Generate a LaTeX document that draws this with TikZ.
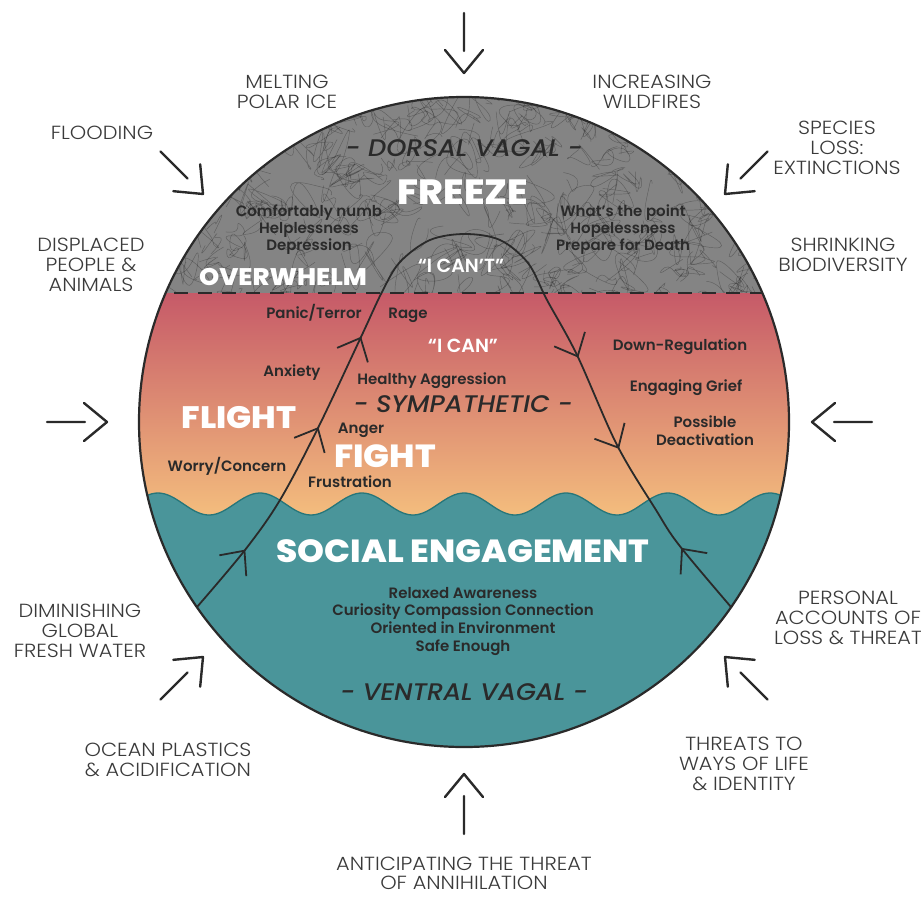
\documentclass[tikz,border=0pt]{standalone}
\usepackage{fontspec}
\usetikzlibrary{arrows.meta,decorations.markings}
\setmainfont{Poppins}
\newfontfamily\lightfont{Poppins Light}[FakeStretch=1.1]
\newfontfamily\semifont{Poppins SemiBold}
\newfontfamily\heavyfont{Poppins ExtraBold}[FakeStretch=1.07]
\newfontfamily\slantfont{Poppins Medium Italic}[FakeStretch=1.07]

\definecolor{inkdark}{HTML}{2A2A2A}
\definecolor{labelgray}{HTML}{3A3A3A}
\definecolor{dorsalgray}{RGB}{132,132,132}
\definecolor{sympTop}{RGB}{198,90,104}
\definecolor{sympMid}{RGB}{222,132,108}
\definecolor{sympBot}{RGB}{245,192,126}
\definecolor{ventral}{RGB}{74,149,154}
\definecolor{waveline}{RGB}{38,118,122}

\tikzset{
  outer/.style={font=\lightfont\fontsize{19}{20}\selectfont, text=labelgray,
    align=center, inner sep=0pt, anchor=north},
  state/.style={font=\semifont\fontsize{15}{17}\selectfont, text=inkdark,
    inner sep=0pt, anchor=base},
  big/.style={font=\heavyfont\fontsize{#1}{#1}\selectfont, text=white,
    inner sep=0pt, anchor=base},
  branch/.style={font=\slantfont\fontsize{24}{24}\selectfont, text=inkdark,
    inner sep=0pt, anchor=base},
  quote/.style={font=\semifont\fontsize{19}{19}\selectfont, text=white,
    inner sep=0pt, anchor=base},
  scribble/.style={line width=0.45pt, draw=black, draw opacity=0.28},
  pics/inarrow/.style={code={
    \draw[line width=2.4pt, draw=inkdark, line cap=round, line join=round]
      (-60,0) -- (-22,0) (-23,-19) -- (0,0) -- (-23,19);
  }},
  archline/.style={line width=1.8pt, draw=inkdark, line cap=round},
  archtips/.style={postaction={decorate}, decoration={markings,
    mark=at position 75pt with {\arrow{Straight Barb[length=19pt,width=34pt]}},
    mark=at position 218pt with {\arrow{Straight Barb[length=19pt,width=34pt]}},
    mark=at position 318pt with {\arrow{Straight Barb[length=19pt,width=34pt]}},
    mark=at position 655pt with {\arrow{Straight Barb[length=19pt,width=34pt]}},
    mark=at position 755pt with {\arrow{Straight Barb[length=19pt,width=34pt]}},
    mark=at position 872pt with {\arrowreversed{Straight Barb[length=19pt,width=34pt]}}}}
}

\begin{document}
\begin{tikzpicture}[x=1pt,y=-1pt]
\useasboundingbox (0,0) rectangle (921,897);
\fill[white] (0,0) rectangle (921,897);

\coordinate (c) at (464,422);

% the three bands of the circle
\begin{scope}
  \clip (c) circle[radius=325];
  % dorsal vagal band with tangled thread texture
  \begin{scope}
    \clip (100,80) rectangle (830,293);
    \fill[dorsalgray] (100,80) rectangle (830,293);
    \pgfmathsetseed{4242}
    \foreach \k in {1,...,340}{
      \pgfmathsetmacro\cx{140+650*rnd}
      \pgfmathsetmacro\cy{88+215*rnd}
      \pgfmathsetmacro\rr{8+18*rnd}
      \draw[scribble] plot[smooth, tension=1] coordinates {
        ({\cx+\rr*rand},{\cy+\rr*rand}) ({\cx+\rr*rand},{\cy+\rr*rand})
        ({\cx+\rr*rand},{\cy+\rr*rand}) ({\cx+\rr*rand},{\cy+\rr*rand})
        ({\cx+\rr*rand},{\cy+\rr*rand}) ({\cx+\rr*rand},{\cy+\rr*rand})};
    }
  \end{scope}
  % sympathetic band
  \shade[top color=sympTop, middle color=sympMid, bottom color=sympBot]
    (100,293) rectangle (830,522);
  % ventral vagal band under the waves (period 102)
  \fill[ventral] plot[domain=100:830, samples=240, smooth]
    (\x,{504-11*cos(3.5294*(\x-158))}) -- (830,760) -- (100,760) -- cycle;
  \draw[waveline, line width=1.3pt] plot[domain=100:830, samples=240, smooth]
    (\x,{504-11*cos(3.5294*(\x-158))});
  % boundary between dorsal and sympathetic
  \draw[inkdark, line width=2.6pt, dash pattern=on 14pt off 10pt]
    (150,293) -- (780,293);
\end{scope}
\draw[inkdark, line width=2.2pt] (c) circle[radius=325];

% the arc of activation
\draw[archline, archtips] plot[smooth, tension=0.55] coordinates {
  (197,607) (245,550) (280,500) (318,428) (361,337) (382,292) (400,262)
  (430,240) (465,234) (500,240) (528,263) (547,300) (577,355) (617,445)
  (656,510) (679,545) (731,607)};

% dorsal vagal
\node[branch] (dorsal) at (464,156) {- DORSAL VAGAL -};
\node[big=35] (freeze) at (463,204) {FREEZE};
\node[state] (numb) at (309,216) {Comfortably numb};
\node[state] (helpless) at (309,233) {Helplessness};
\node[state] (depress) at (309,250) {Depression};
\node[state] (point) at (623,216) {What’s the point};
\node[state] (hopeless) at (623,233) {Hopelessness};
\node[state] (death) at (623,250) {Prepare for Death};
\node[quote] (icant) at (461,272) {“I CAN’T”};
\node[big=24] (overwhelm) at (283,285) {OVERWHELM};

% sympathetic
\node[state] (panic) at (314,318) {Panic/Terror};
\node[state] (rage) at (408,318) {Rage};
\node[quote] (ican) at (463,352) {“I CAN”};
\node[state] (downreg) at (680,350) {Down-Regulation};
\node[state] (anxiety) at (292,376) {Anxiety};
\node[state] (healthy) at (432,384) {Healthy Aggression};
\node[state] (grief) at (686,391) {Engaging Grief};
\node[branch] (symp) at (463,412) {- SYMPATHETIC -};
\node[big=31] (flight) at (239,428) {FLIGHT};
\node[state] (anger) at (361,433) {Anger};
\node[state] (possible) at (705,427) {Possible};
\node[state] (deact) at (705,445) {Deactivation};
\node[big=32] (fight) at (385,467) {FIGHT};
\node[state] (worry) at (227,471) {Worry/Concern};
\node[state] (frust) at (350,487) {Frustration};

% ventral vagal
\node[big=32] (social) at (463,562) {SOCIAL ENGAGEMENT};
\node[state] (relaxed) at (463,598) {Relaxed Awareness};
\node[state] (curious) at (463,615) {Curiosity Compassion Connection};
\node[state] (oriented) at (463,633) {Oriented in Environment};
\node[state] (safe) at (463,651) {Safe Enough};
\node[branch] (ventralv) at (464,700) {- VENTRAL VAGAL -};

% pressures from outside
\pic[rotate=-90] at (464,73) {inarrow};
\pic[rotate=-45] at (203,194) {inarrow};
\pic[rotate=-135] at (725,194) {inarrow};
\pic[rotate=0] at (107,422) {inarrow};
\pic[rotate=180] at (812,422) {inarrow};
\pic[rotate=45] at (203,657) {inarrow};
\pic[rotate=135] at (725,657) {inarrow};
\pic[rotate=90] at (464,774) {inarrow};

\node[outer] (ice) at (287,75) {MELTING\\POLAR ICE};
\node[outer] (fires) at (652,75) {INCREASING\\WILDFIRES};
\node[outer] (flood) at (102,126) {FLOODING};
\node[outer] (species) at (837,121) {SPECIES\\LOSS:\\EXTINCTIONS};
\node[outer] (displaced) at (91,238) {DISPLACED\\PEOPLE \&\\ANIMALS};
\node[outer] (shrink) at (843,238) {SHRINKING\\BIODIVERSITY};
\node[outer] (water) at (80,604) {DIMINISHING\\GLOBAL\\FRESH WATER};
\node[outer] (personal) at (848,591) {PERSONAL\\ACCOUNTS OF\\LOSS \& THREAT};
\node[outer] (ocean) at (168,743) {OCEAN PLASTICS\\\& ACIDIFICATION};
\node[outer] (ways) at (744,737) {THREATS TO\\WAYS OF LIFE\\\& IDENTITY};
\node[outer, font=\lightfont\fontsize{19}{19}\selectfont] (annihil) at (464,857)
  {ANTICIPATING THE THREAT\\OF ANNIHILATION};
\end{tikzpicture}
\end{document}
